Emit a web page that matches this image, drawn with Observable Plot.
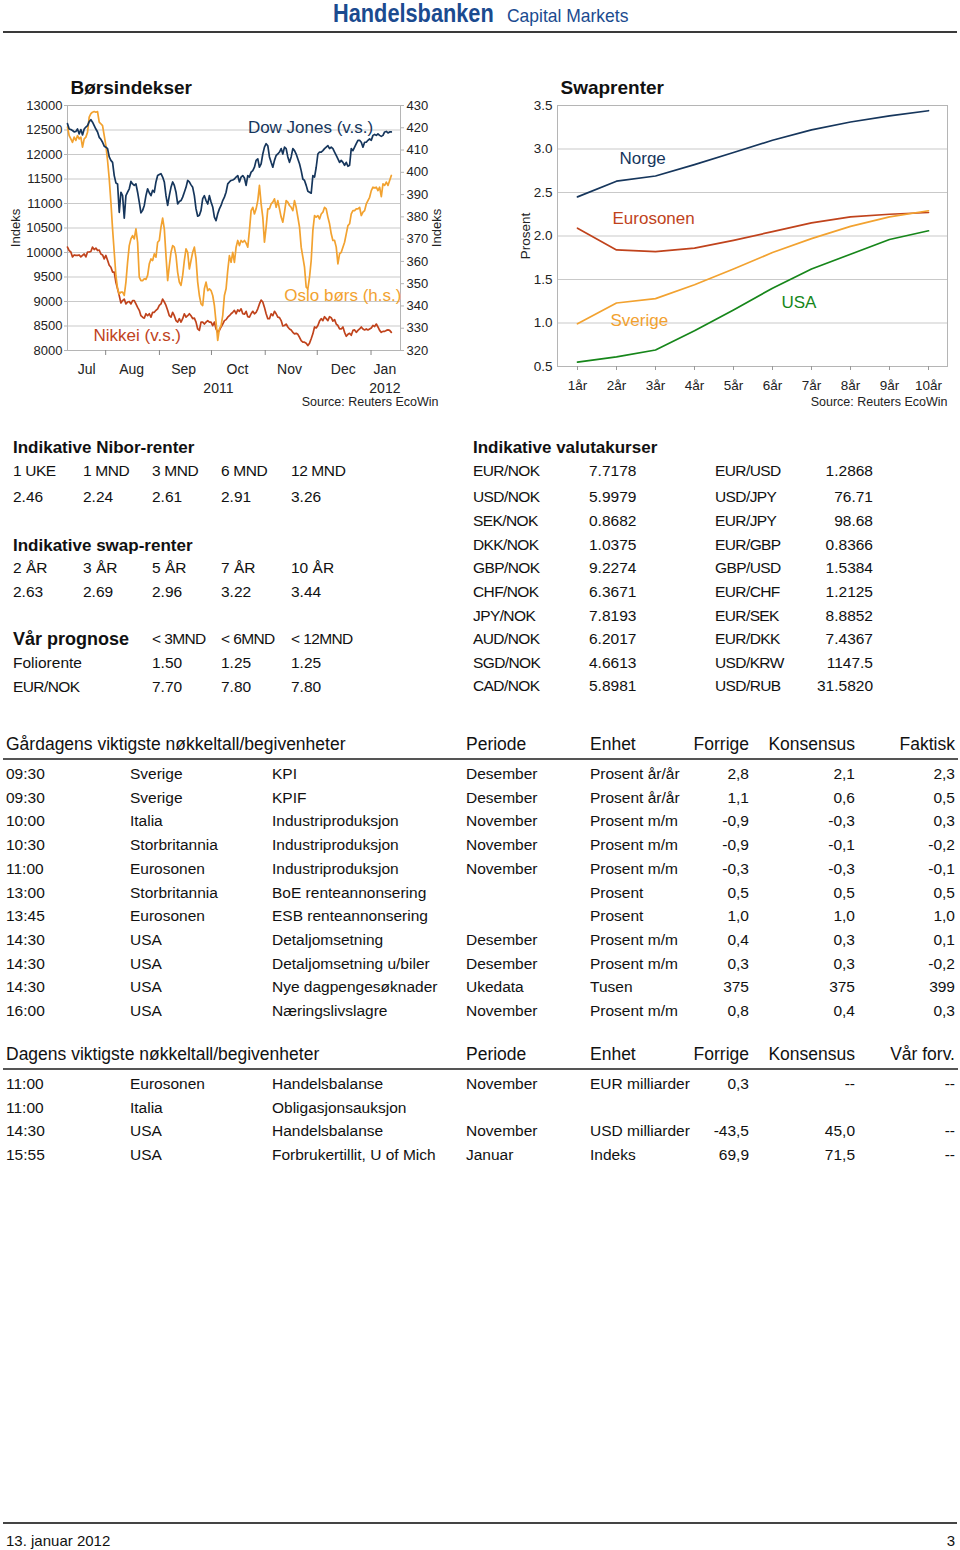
<!DOCTYPE html>
<html><head><meta charset="utf-8">
<script src="https://cdn.jsdelivr.net/npm/d3@7"></script>
<script src="https://cdn.jsdelivr.net/npm/@observablehq/plot@0.6"></script>
<style>
body{margin:0;background:#fff;}
#page{position:relative;width:960px;height:1550px;font-family:"Liberation Sans",Arial,sans-serif;color:#111;overflow:hidden;background:#fff}
.t{position:absolute;white-space:nowrap;line-height:1}
.rule{position:absolute;background:#444}
.chart{position:absolute}
</style></head><body><div id="page"></div>
<script>
// ---------------- DATA ----------------
const startDate = Date.UTC(2011, 6, 10);   // first observation (10 Jul 2011)
const stepDays = 0.9624;                     // spacing of the readings in days
const dowValues = [
12630,12520,12510,12490,12460,12470,12520,12420,12510,12400,
12520,12560,12590,12670,12710,12660,12590,12520,12460,12350,
12310,12250,12170,12150,12120,11950,11880,11840,11570,11420,
11400,10820,11230,11160,10700,11160,11230,11300,11450,11400,
11370,11400,11230,11030,10810,10860,10960,11160,11300,11220,
11160,11270,11230,11440,11570,11590,11610,11540,11440,11160,
10960,11160,11330,11440,11370,11230,10990,11040,11060,11130,
11230,11330,11470,11440,11380,11330,11160,10890,10740,10760,
10860,11100,11160,11060,10990,11160,11030,10930,10720,10650,
10790,10890,10960,11060,11130,11230,11400,11440,11470,
11480,11500,11540,11570,11440,11540,11570,11520,11370,11570,
11540,11640,11670,11740,11880,11910,11740,11810,12010,12150,
12220,12180,11950,11840,11740,11880,11980,12010,12050,12120,
12010,12150,12120,11950,11840,11950,12120,12080,12010,11910,
11810,11670,11500,11470,11370,11250,11230,11210,11570,11540,
11740,12010,12050,12050,12080,12120,12150,12180,12120,12150,
12120,12050,11980,11910,11840,11880,11840,11780,11840,11760,
11780,12120,12080,12150,12220,12290,12290,12250,12150,12250,
12250,12290,12320,12290,12390,12410,12390,12420,12390,12370,
12390,12460,12470,12440,12460,12460];
const nikkeiValues = [
10110,10040,10010,9910,9950,9940,9940,9950,9910,9940,
9970,9910,10010,10010,10020,10110,10060,10090,10040,10050,
9970,9950,9870,9940,9840,9740,9700,9600,9600,9390,
9260,9120,8970,9020,9050,8950,8990,9000,8950,9020,
9020,8950,8880,8820,8710,8680,8660,8750,8710,8750,
8680,8780,8780,8820,8850,8920,8950,9050,8990,8920,
8820,8710,8680,8780,8710,8610,8580,8650,8580,8650,
8750,8680,8710,8750,8710,8650,8660,8580,8440,8410,
8580,8580,8540,8580,8610,8580,8580,8510,8580,8440,
8370,8410,8480,8540,8610,8630,8680,8710,8750,
8780,8820,8750,8830,8800,8850,8750,8740,8800,8690,
8680,8750,8800,8750,8780,8850,8950,9030,8990,8880,
8750,8650,8650,8750,8710,8800,8750,8680,8670,8610,
8500,8510,8540,8480,8440,8420,8370,8340,8350,8330,
8270,8200,8170,8170,8150,8100,8150,8240,8340,8480,
8460,8510,8600,8650,8610,8690,8650,8610,8690,8670,
8600,8630,8540,8510,8440,8440,8480,8370,8290,8330,
8350,8310,8410,8420,8370,8410,8440,8480,8440,8420,
8440,8420,8440,8460,8510,8490,8540,8480,8410,8370,
8390,8390,8410,8420,8410,8370];
const osloValues = [
420.3,416.5,415.0,413.5,415.8,414.3,416.5,415.0,415.8,411.3,
415.0,415.8,418.0,424.8,426.3,427.0,427.3,427.0,427.3,422.5,
421.8,421.0,416.5,412.0,405.3,397.1,386.6,374.6,364.1,353.7,
347.7,345.4,346.2,346.2,344.7,350.7,359.6,367.1,370.1,371.6,
370.1,374.6,368.6,352.9,351.4,351.4,352.2,351.9,353.7,358.9,
361.1,360.4,363.4,361.9,368.6,369.4,375.4,379.4,374.6,362.6,
351.4,358.1,364.1,367.1,366.4,362.6,355.1,350.7,349.2,353.7,
360.4,365.6,364.1,356.6,360.4,364.1,366.4,361.1,350.7,344.7,
340.9,340.2,347.7,350.7,346.9,347.7,346.9,344.7,340.2,332.7,
324.5,329.7,331.2,335.7,344.7,347.7,355.9,362.6,359.6,
364.1,359.6,366.4,369.4,367.1,369.4,368.6,369.4,368.2,366.4,
373.9,382.8,384.3,381.3,383.6,387.3,394.1,385.8,379.9,368.6,
375.4,383.6,383.6,385.8,386.6,388.1,384.3,387.3,383.6,379.9,
377.6,382.1,387.3,386.6,385.1,384.3,382.8,387.3,384.3,379.9,
375.4,366.4,361.9,357.4,348.4,347.7,352.9,360.4,373.9,380.6,
379.9,380.6,379.1,381.3,382.1,384.3,383.6,379.9,376.9,372.4,
369.4,369.4,366.4,358.9,363.4,364.1,366.4,368.6,372.4,376.1,
376.9,381.3,382.8,382.8,383.6,383.6,384.3,380.6,382.1,382.8,
385.8,387.3,388.8,391.8,393.3,393.0,393.3,391.8,393.3,389.1,
394.8,394.1,395.6,394.1,396.3,398.6];
const leftTicks = [8000,8500,9000,9500,10000,10500,11000,11500,12000,12500,13000];
const rightTicks = [320,330,340,350,360,370,380,390,400,410,420,430];
const monthStarts = ["2011-08-01","2011-09-01","2011-10-01","2011-11-01","2011-12-01","2012-01-01"];
const monthLabelDates = ["2011-07-21","2011-08-16","2011-09-15","2011-10-16","2011-11-15","2011-12-16","2012-01-09"];
const yearLabels = [["2011-10-05","2011"],["2012-01-09","2012"]];
const seriesLabels = [["Dow Jones (v.s.)"],["Oslo børs (h.s.)"],["Nikkei (v.s.)"]];

const tenors = ["1år","2år","3år","4år","5år","6år","7år","8år","9år","10år"];
const norge     = [2.45,2.63,2.69,2.82,2.96,3.10,3.22,3.31,3.38,3.44];
const eurosonen = [2.09,1.84,1.82,1.86,1.95,2.05,2.15,2.22,2.25,2.27];
const sverige   = [0.99,1.23,1.28,1.44,1.62,1.81,1.97,2.11,2.22,2.29];
const usa       = [0.55,0.61,0.69,0.91,1.15,1.40,1.62,1.79,1.96,2.06];
const swapTicks = [0.5,1.0,1.5,2.0,2.5,3.0,3.5];

const niborTenors = ["1 UKE","1 MND","3 MND","6 MND","12 MND"];
const niborValues = ["2.46","2.24","2.61","2.91","3.26"];
const swapTenors = ["2 ÅR","3 ÅR","5 ÅR","7 ÅR","10 ÅR"];
const swapValues = ["2.63","2.69","2.96","3.22","3.44"];
const prognoseHeads = ["< 3MND","< 6MND","< 12MND"];
const prognoseRows = [["Foliorente","1.50","1.25","1.25"],["EUR/NOK","7.70","7.80","7.80"]];
const fxPairsA = ["EUR/NOK","USD/NOK","SEK/NOK","DKK/NOK","GBP/NOK","CHF/NOK","JPY/NOK","AUD/NOK","SGD/NOK","CAD/NOK"];
const fxValuesA = ["7.7178","5.9979","0.8682","1.0375","9.2274","6.3671","7.8193","6.2017","4.6613","5.8981"];
const fxPairsB = ["EUR/USD","USD/JPY","EUR/JPY","EUR/GBP","GBP/USD","EUR/CHF","EUR/SEK","EUR/DKK","USD/KRW","USD/RUB"];
const fxValuesB = ["1.2868","76.71","98.68","0.8366","1.5384","1.2125","8.8852","7.4367","1147.5","31.5820"];

const yHeads = ["Gårdagens viktigste nøkkeltall/begivenheter","Periode","Enhet","Forrige","Konsensus","Faktisk"];
const yTimes = ["09:30","09:30","10:00","10:30","11:00","13:00","13:45","14:30","14:30","14:30","16:00"];
const yCountries = ["Sverige","Sverige","Italia","Storbritannia","Eurosonen","Storbritannia","Eurosonen","USA","USA","USA","USA"];
const yEvents = ["KPI","KPIF","Industriproduksjon","Industriproduksjon","Industriproduksjon","BoE renteannonsering","ESB renteannonsering","Detaljomsetning","Detaljomsetning u/biler","Nye dagpengesøknader","Næringslivslagre"];
const yPeriods = ["Desember","Desember","November","November","November","","","Desember","Desember","Ukedata","November"];
const yUnits = ["Prosent år/år","Prosent år/år","Prosent m/m","Prosent m/m","Prosent m/m","Prosent","Prosent","Prosent m/m","Prosent m/m","Tusen","Prosent m/m"];
const yPrev = ["2,8","1,1","-0,9","-0,9","-0,3","0,5","1,0","0,4","0,3","375","0,8"];
const yCons = ["2,1","0,6","-0,3","-0,1","-0,3","0,5","1,0","0,3","0,3","375","0,4"];
const yActual = ["2,3","0,5","0,3","-0,2","-0,1","0,5","1,0","0,1","-0,2","399","0,3"];

const tHeads = ["Dagens viktigste nøkkeltall/begivenheter","Periode","Enhet","Forrige","Konsensus","Vår forv."];
const tTimes = ["11:00","11:00","14:30","15:55"];
const tCountries = ["Eurosonen","Italia","USA","USA"];
const tEvents = ["Handelsbalanse","Obligasjonsauksjon","Handelsbalanse","Forbrukertillit, U of Mich"];
const tPeriods = ["November","","November","Januar"];
const tUnits = ["EUR milliarder","","USD milliarder","Indeks"];
const tPrev = ["0,3","","-43,5","69,9"];
const tCons = ["--","","45,0","71,5"];
const tOurs = ["--","","--","--"];

// ---------------- STYLE ----------------
const font = '"Liberation Sans",Arial,sans-serif';
const C = {navy:"#16365c", orange:"#f2a230", red:"#c0431c", green:"#16861a", grid:"#c9c9c9", frame:"#b5b5b5"};
const page = document.getElementById("page");

function put(text, x, y, o = {}) {
  const s = document.createElement("div");
  s.className = "t";
  s.textContent = text;
  s.style.left = x + "px";
  s.style.top = y + "px";
  s.style.fontSize = (o.size || 15.5) + "px";
  if (o.weight) s.style.fontWeight = o.weight;
  if (o.color) s.style.color = o.color;
  if (o.ls) s.style.letterSpacing = o.ls;
  s.style.transformOrigin = o.align === "right" ? "right center" : "left center";
  s.style.transform = `translate(${o.align === "right" ? "-100%" : "0"},-50%) scaleX(${o.sx || 1})`;
  page.appendChild(s);
}
function rule(x, y, w, h, color) {
  const r = document.createElement("div");
  r.className = "rule";
  Object.assign(r.style, {left: x + "px", top: y + "px", width: w + "px", height: h + "px", background: color || "#444"});
  page.appendChild(r);
}

// ---------------- HEADER ----------------
put("Handelsbanken", 333, 13, {size: 25, weight: "bold", color: "#1b4b8f", sx: 0.87});
put("Capital Markets", 507, 15, {size: 19, color: "#1b4b8f", sx: 0.92});
rule(3, 31, 954, 2, "#3a3a3a");

// ---------------- LEFT CHART ----------------
const toLeft = v => 8000 + (v - 320) * 5000 / 110;
const fromLeft = d => Math.round(320 + (d - 8000) * 110 / 5000);
const rows = dowValues.map((dow, i) => ({
  date: new Date(startDate + i * stepDays * 864e5),
  dow, nikkei: nikkeiValues[i], oslo: osloValues[i]
}));
const day = s => new Date(s + "T00:00:00Z");
const leftChart = Plot.plot({
  width: 460, height: 360, marginLeft: 67, marginRight: 60, marginTop: 45, marginBottom: 70,
  style: {fontFamily: font, fontSize: "13px", color: "#222", background: "transparent", overflow: "visible"},
  x: {type: "utc", domain: [day("2011-07-10"), day("2012-01-18")]},
  y: {domain: [8000, 13000]},
  marks: [
    Plot.ruleY(leftTicks, {stroke: C.grid}),
    Plot.frame({stroke: C.frame}),
    Plot.axisY({ticks: leftTicks, tickSize: 3, tickPadding: 2, stroke: C.frame, tickFormat: d => String(d), fontSize: 13,
      label: "Indeks", labelAnchor: "center", labelArrow: "none", labelOffset: 57}),
    Plot.axisY({anchor: "right", ticks: rightTicks.map(toLeft), tickSize: 3, tickPadding: 3, stroke: C.frame, fontSize: 13,
      tickFormat: fromLeft, label: "Indeks", labelAnchor: "center", labelArrow: "none", labelOffset: 40}),
    Plot.axisX({ticks: monthStarts.map(day), tickSize: 5, stroke: "#888", tickFormat: () => "", label: null}),
    Plot.axisX({ticks: monthLabelDates.map(day), tickSize: 0, tickPadding: 14, tickFormat: d3.utcFormat("%b"), fontSize: 14, label: null}),
    Plot.text(yearLabels, {x: d => day(d[0]), text: d => d[1], frameAnchor: "bottom", dy: 42, fontSize: 14}),
    Plot.line(rows, {x: "date", y: "nikkei", stroke: C.red, strokeWidth: 1.7}),
    Plot.line(rows, {x: "date", y: d => toLeft(d.oslo), stroke: C.orange, strokeWidth: 1.7}),
    Plot.line(rows, {x: "date", y: "dow", stroke: C.navy, strokeWidth: 1.7}),
    Plot.text([seriesLabels[0]], {x: day("2011-10-22"), y: 12560, text: d => d[0], textAnchor: "start", fill: C.navy, fontSize: 17}),
    Plot.text([seriesLabels[1]], {x: day("2011-11-12"), y: 9120, text: d => d[0], textAnchor: "start", fill: C.orange, fontSize: 17}),
    Plot.text([seriesLabels[2]], {x: day("2011-07-25"), y: 8310, text: d => d[0], textAnchor: "start", fill: C.red, fontSize: 17}),
    Plot.text(["Børsindekser"], {frameAnchor: "top-left", dx: 3, dy: -25, textAnchor: "start", fontSize: 19, fontWeight: "bold", fill: "#111"}),
    Plot.text(["Source: Reuters EcoWin"], {frameAnchor: "bottom-right", dx: 38, dy: 55, textAnchor: "end", fontSize: 12.5})
  ]
});
leftChart.classList.add("chart");
leftChart.style.left = "0px"; leftChart.style.top = "60px";
page.appendChild(leftChart);

// ---------------- RIGHT CHART ----------------
const swapSeries = [["Norge", norge, C.navy], ["Eurosonen", eurosonen, C.red], ["Sverige", sverige, C.orange], ["USA", usa, C.green]];
const swapRows = swapSeries.flatMap(([name, vals, color]) => vals.map((v, i) => ({name, tenor: tenors[i], v, color})));
const rightChart = Plot.plot({
  width: 460, height: 360, marginLeft: 57, marginRight: 13, marginTop: 45, marginBottom: 54,
  style: {fontFamily: font, fontSize: "13.5px", color: "#222", background: "transparent", overflow: "visible"},
  x: {type: "point", domain: tenors, padding: 0.5},
  y: {domain: [0.5, 3.5]},
  marks: [
    Plot.ruleY(swapTicks, {stroke: C.grid}),
    Plot.frame({stroke: C.frame}),
    Plot.axisY({ticks: swapTicks, tickSize: 0, tickPadding: 5, tickFormat: d3.format(".1f"),
      label: "Prosent", labelAnchor: "center", labelArrow: "none", labelOffset: 37}),
    Plot.axisX({tickSize: 4, tickPadding: 10, stroke: "#999", label: null}),
    Plot.line(swapRows, {x: "tenor", y: "v", z: "name", stroke: "color", strokeWidth: 1.7}),
    Plot.text([swapSeries[0]], {x: () => "2år", y: () => 2.89, text: d => d[0], dx: 3, textAnchor: "start", fill: C.navy, fontSize: 17}),
    Plot.text([swapSeries[1]], {x: () => "2år", y: () => 2.20, text: d => d[0], dx: -4, textAnchor: "start", fill: C.red, fontSize: 17}),
    Plot.text([swapSeries[2]], {x: () => "2år", y: () => 1.03, text: d => d[0], dx: -6, textAnchor: "start", fill: C.orange, fontSize: 17}),
    Plot.text([swapSeries[3]], {x: () => "6år", y: () => 1.24, text: d => d[0], dx: 9, textAnchor: "start", fill: C.green, fontSize: 17}),
    Plot.text(["Swaprenter"], {frameAnchor: "top-left", dx: 3, dy: -25, textAnchor: "start", fontSize: 19, fontWeight: "bold", fill: "#111"}),
    Plot.text(["Source: Reuters EcoWin"], {frameAnchor: "bottom-right", dx: 0, dy: 39, textAnchor: "end", fontSize: 12.5})
  ]
});
rightChart.classList.add("chart");
rightChart.style.left = "500px"; rightChart.style.top = "60px";
page.appendChild(rightChart);

// ---------------- KEY-FIGURE TABLES ----------------
const colsL = [13, 83, 152, 221, 291];
put("Indikative Nibor-renter", 13, 447, {size: 17, weight: "bold"});
niborTenors.forEach((t, i) => put(t, colsL[i], 471, {ls: "-0.4px"}));
niborValues.forEach((t, i) => put(t, colsL[i], 497));
put("Indikative swap-renter", 13, 545, {size: 17, weight: "bold"});
swapTenors.forEach((t, i) => put(t, colsL[i], 568));
swapValues.forEach((t, i) => put(t, colsL[i], 592));
put("Vår prognose", 13, 639, {size: 18, weight: "bold"});
prognoseHeads.forEach((t, i) => put(t, colsL[i + 2], 639, {ls: "-0.6px"}));
prognoseRows.forEach((r, j) => r.forEach((t, i) => put(t, i === 0 ? 13 : colsL[i + 1], 663 + j * 23.5, {ls: i === 0 && j === 1 ? "-0.6px" : null})));

put("Indikative valutakurser", 473, 447, {size: 17, weight: "bold"});
const fxY = [471, 497, 521, 545, 568, 592, 616, 639, 663, 686];
fxPairsA.forEach((t, i) => put(t, 473, fxY[i], {ls: "-0.6px"}));
fxValuesA.forEach((t, i) => put(t, 589, fxY[i]));
fxPairsB.forEach((t, i) => put(t, 715, fxY[i], {ls: "-0.6px"}));
fxValuesB.forEach((t, i) => put(t, 873, fxY[i], {align: "right"}));

// ---------------- EVENT TABLES ----------------
function eventTable(heads, cols, y0, lineY, rowY0) {
  put(heads[0], 6, y0, {size: 17.5});
  put(heads[1], 466, y0, {size: 17.5});
  put(heads[2], 590, y0, {size: 17.5});
  put(heads[3], 749, y0, {size: 17.5, align: "right"});
  put(heads[4], 855, y0, {size: 17.5, align: "right"});
  put(heads[5], 955, y0, {size: 17.5, align: "right"});
  rule(3, lineY, 955, 2, "#555");
  cols[0].forEach((_, i) => {
    const y = rowY0 + i * 23.7;
    put(cols[0][i], 6, y);
    put(cols[1][i], 130, y);
    put(cols[2][i], 272, y);
    put(cols[3][i], 466, y);
    put(cols[4][i], 590, y);
    put(cols[5][i], 749, y, {align: "right"});
    put(cols[6][i], 855, y, {align: "right"});
    put(cols[7][i], 955, y, {align: "right"});
  });
}
eventTable(yHeads, [yTimes, yCountries, yEvents, yPeriods, yUnits, yPrev, yCons, yActual], 745, 758, 774);
eventTable(tHeads, [tTimes, tCountries, tEvents, tPeriods, tUnits, tPrev, tCons, tOurs], 1055, 1068, 1084);

// ---------------- FOOTER ----------------
rule(3, 1522, 954, 2, "#444");
put("13. januar 2012", 6, 1540, {size: 15});
put("3", 955, 1540, {size: 15, align: "right"});
</script></body></html>
